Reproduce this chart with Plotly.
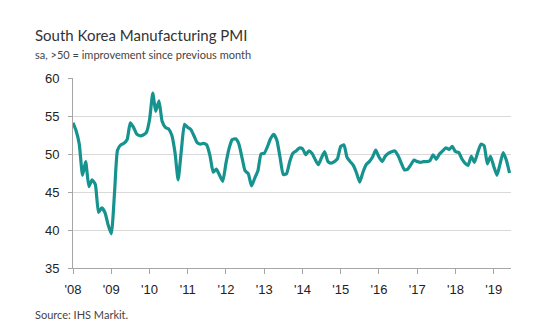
import pandas as pd
import plotly.graph_objects as go

# Monthly South Korea manufacturing PMI, Jan 2008 - Jun 2019 (seasonally adjusted)
pmi_2008 = [54.1, 53.0, 51.3, 47.2, 49.0, 45.7, 46.6, 46.0, 42.3, 42.9, 42.3, 40.7]
pmi_2009 = [39.5, 45.0, 50.5, 51.2, 51.4, 51.9, 54.1, 53.5, 52.6, 52.4, 52.5, 52.8]
pmi_2010 = [54.5, 58.0, 55.6, 57.0, 54.3, 53.5, 53.3, 52.5, 50.2, 46.6, 50.5, 53.9]
pmi_2011 = [53.5, 53.2, 52.4, 51.5, 51.3, 51.4, 51.2, 49.8, 47.6, 48.0, 47.2, 46.4]
pmi_2012 = [48.8, 50.8, 51.9, 52.0, 51.4, 49.6, 47.8, 47.4, 45.8, 46.8, 47.8, 50.0]
pmi_2013 = [50.1, 51.0, 52.0, 52.6, 51.8, 49.5, 47.3, 47.4, 49.0, 50.1, 50.4, 50.8]
pmi_2014 = [50.7, 49.9, 50.4, 50.1, 49.3, 48.6, 49.5, 50.3, 49.0, 48.8, 49.0, 49.4]
pmi_2015 = [51.0, 51.2, 49.6, 49.0, 48.5, 47.5, 46.3, 47.6, 48.6, 49.0, 49.6, 50.5]
pmi_2016 = [49.6, 49.0, 49.7, 50.1, 50.3, 50.4, 49.8, 48.8, 47.9, 48.0, 48.6, 49.2]
pmi_2017 = [49.0, 48.9, 49.0, 49.0, 49.1, 49.9, 49.3, 50.0, 50.4, 50.8, 50.6, 51.0]
pmi_2018 = [50.3, 50.2, 49.4, 48.8, 48.5, 49.7, 48.9, 50.2, 51.3, 51.1, 48.7, 49.7]
pmi_2019 = [48.4, 47.2, 48.6, 50.2, 49.2, 47.5]

pmi = (pmi_2008 + pmi_2009 + pmi_2010 + pmi_2011 + pmi_2012 + pmi_2013
       + pmi_2014 + pmi_2015 + pmi_2016 + pmi_2017 + pmi_2018 + pmi_2019)
months = pd.date_range("2008-01-01", periods=len(pmi), freq="MS")

tick_years = list(range(2008, 2020))
tick_labels = ["'08", "'09", "'10", "'11", "'12", "'13", "'14", "'15",
               "'16", "'17", "'18", "'19"]
y_ticks = [35, 40, 45, 50, 55, 60]

title_text = "South Korea Manufacturing PMI"
subtitle_text = "sa, >50 = improvement since previous month"
source_text = "Source: IHS Markit."

line_color = "#17938f"
axis_color = "#a6a6a6"
grid_color = "#d9d9d9"

# page and plot-area geometry in pixels
W, H = 556, 325
pl, pr, pt, pb = 73, 45, 78, 57
pw, ph = W - pl - pr, H - pt - pb


def px(xp):
    return (xp - pl) / pw


def py(yp):
    return (H - pb - yp) / ph


fig = go.Figure()
fig.add_trace(go.Scatter(
    x=months, y=pmi, mode="lines",
    line=dict(color=line_color, width=3.2, shape="spline", smoothing=0.5),
    hoverinfo="x+y", showlegend=False,
))

fig.update_layout(
    width=W, height=H,
    margin=dict(l=pl, r=pr, t=pt, b=pb),
    paper_bgcolor="white", plot_bgcolor="white",
    font=dict(family="Liberation Sans, Arial, sans-serif", size=13, color="#222222"),
    xaxis=dict(
        range=["2008-01-01", "2019-06-15"],
        tickmode="array",
        tickvals=[f"{y}-01-01" for y in tick_years],
        ticktext=tick_labels,
        showgrid=False, zeroline=False,
        showline=True, linecolor=axis_color, linewidth=1,
        ticks="outside", ticklen=5, tickcolor=axis_color,
        ticklabelstandoff=4,
    ),
    yaxis=dict(
        range=[35, 60],
        tickmode="array", tickvals=y_ticks,
        showgrid=True, gridcolor=grid_color, gridwidth=1,
        zeroline=False,
        showline=True, linecolor=axis_color, linewidth=1,
        ticks="outside", ticklen=4, tickcolor=axis_color,
        ticklabelstandoff=6,
    ),
)

fig.add_annotation(text=title_text, x=px(33), y=py(35), xref="paper", yref="paper",
                   xanchor="left", yanchor="middle", showarrow=False,
                   font=dict(family="Lato, sans-serif", size=15, color="#333333"))
fig.add_annotation(text=subtitle_text, x=px(33), y=py(54), xref="paper", yref="paper",
                   xanchor="left", yanchor="middle", showarrow=False,
                   font=dict(family="Lato, sans-serif", size=11, color="#444444"))
fig.add_annotation(text=source_text, x=px(33), y=py(314), xref="paper", yref="paper",
                   xanchor="left", yanchor="middle", showarrow=False,
                   font=dict(family="Lato, sans-serif", size=11, color="#444444"))

fig.write_html("out.html")
